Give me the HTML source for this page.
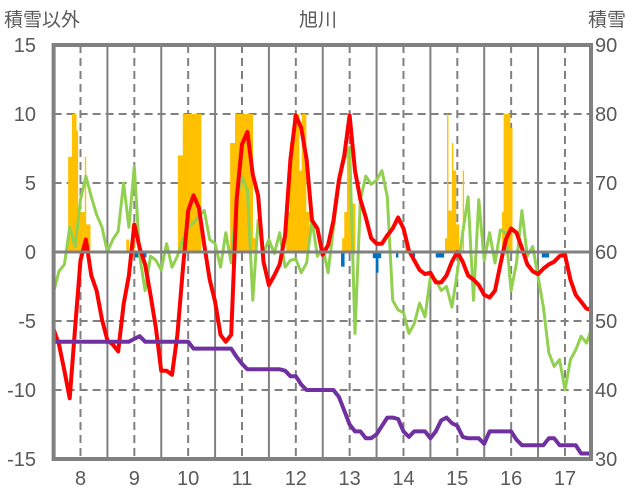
<!DOCTYPE html>
<html><head><meta charset="utf-8"><style>
body{margin:0;background:#fff;}
svg{display:block;font-family:"Liberation Sans","Noto Sans CJK JP",sans-serif;}
</style></head><body>
<svg id="chart" width="636" height="501" viewBox="0 0 636 501">
<text x="4" y="26" font-size="19" fill="#595959">積雪以外</text>
<text x="318" y="26" font-size="19" fill="#595959" text-anchor="middle">旭川</text>
<text x="588" y="26" font-size="19" fill="#595959">積雪</text>
<g id="grid"></g><g id="bars"></g><g id="lines"></g><g id="frame"></g><g id="labels"></g>
</svg>
<script>
const xTicks=[8,9,10,11,12,13,14,15,16,17];
const leftTicks=[15,10,5,0,-5,-10,-15];
const rightTicks=[90,80,70,60,50,40,30];
const seriesStart=7.5, seriesStep=0.1;
const redValues=[-5.6,-6.7,-8.6,-10.6,-5.5,-0.6,0.9,-1.7,-2.8,-4.9,-6.4,-6.7,-7.2,-3.8,-1.7,2.0,0.3,-0.9,-3.1,-5.5,-8.6,-8.6,-8.9,-6.0,-1.3,3.0,4.1,3.2,0.5,-2.0,-3.6,-6.0,-6.5,-6.0,3.8,7.8,8.7,5.6,4.1,-0.7,-2.4,-1.7,-0.9,1.2,6.7,9.9,9.0,6.7,2.3,1.7,-0.2,0.5,2.3,5.2,7.0,9.9,5.9,3.8,2.5,1.0,0.6,0.6,1.2,1.7,2.5,1.7,0.1,-0.6,-1.3,-1.6,-1.5,-2.2,-2.2,-1.7,-0.7,0,-0.7,-1.7,-2.0,-2.4,-3.1,-3.3,-2.8,-0.9,0.9,1.7,1.4,0.3,-0.9,-1.4,-1.6,-1.2,-0.9,-0.7,-0.3,-0.2,-2.0,-3.1,-3.6,-4.1,-4.2];
const greenValues=[-2.9,-1.4,-0.9,1.8,0.4,3.8,5.5,4.0,2.7,1.8,0,0.9,1.5,5.0,1.8,6.2,-0.3,-2.8,-0.3,-0.6,-1.3,0.6,-1.1,-0.3,0.9,1.8,2.1,2.6,3.0,0.9,0.6,-1.1,1.4,-0.8,3.8,5.4,4.5,-3.5,2.3,-0.1,0.9,-0.1,1.4,-1.1,-0.6,-0.5,-1.5,-0.8,2.3,-0.3,0.4,-1.5,1.8,5.0,6.7,7.6,-5.9,3.8,5.5,4.9,5.2,5.9,4.0,-3.5,-4.2,-4.4,-5.9,-5.2,-3.7,-4.7,-1.8,-2.0,-2.8,-2.5,-4.0,-1.5,1.4,4.0,-3.5,3.8,-0.6,1.4,-0.8,1.6,1.4,-2.8,-0.8,3.0,-0.3,0.4,-1.8,-4.0,-7.3,-8.3,-7.8,-10.0,-7.8,-7.1,-6.1,-6.6,-5.5];
const purpleValues=[-6.5,-6.5,-6.5,-6.5,-6.5,-6.5,-6.5,-6.5,-6.5,-6.5,-6.5,-6.5,-6.5,-6.5,-6.5,-6.3,-6.1,-6.5,-6.5,-6.5,-6.5,-6.5,-6.5,-6.5,-6.5,-6.5,-7.0,-7.0,-7.0,-7.0,-7.0,-7.0,-7.0,-7.0,-7.6,-8.1,-8.5,-8.5,-8.5,-8.5,-8.5,-8.5,-8.5,-8.6,-9.0,-9.0,-9.6,-10,-10,-10,-10,-10,-10,-10.5,-11.5,-12.5,-13.0,-13.0,-13.5,-13.5,-13.2,-12.6,-12.0,-12.0,-12.1,-13.0,-13.4,-13.0,-13.0,-13.0,-13.5,-13.0,-12.2,-12.0,-12.4,-12.6,-13.4,-13.5,-13.5,-13.5,-13.9,-13.0,-13.0,-13.0,-13.0,-13.0,-13.6,-14.0,-14.0,-14.0,-14.0,-14.0,-13.5,-13.5,-14.0,-14.0,-14.0,-14.0,-14.6,-14.6,-14.6];
const barFrom=[7.77,7.84,7.92,7.95,8.0,8.08,8.1,8.85,8.95,9.81,9.9,10.78,10.87,11.2,11.82,11.89,11.95,12.06,12.11,12.19,12.86,12.9,12.95,13.03,14.03,14.77,14.81,14.83,14.9,14.92,14.975,15.1,15.83,15.86,15.98, 9.01,12.84,13.04,13.43,13.49,13.53,13.86,14.16,14.6,15.68,16.57];
const barTo=[7.84,7.92,7.95,8.0,8.08,8.1,8.18,8.9,9.0,9.9,10.24,10.87,11.2,11.26,11.89,11.95,12.06,12.11,12.19,12.25,12.9,12.95,13.03,13.1,14.06,14.81,14.83,14.9,14.92,14.975,15.03,15.12,15.86,15.98,16.02, 9.22,12.9,13.08,13.49,13.53,13.58,13.9,14.21,14.75,15.72,16.7];
const barValues=[6.9,10,8.8,2.9,2.9,6.9,2.0,0.9,2.0,7.0,10,7.9,10,1.0,2.9,7.9,10,5.9,10,2.9,1.0,2.9,7.0,3.5,1.0,1.0,10,3.0,7.9,5.9,2.0,5.9,2.9,10,9.0, -0.4,-1.06,-0.3,-0.45,-1.5,-0.45,-0.4,-0.4,-0.4,-0.4,-0.4];

const L=53.6,R=591,T=45,B=459;
const xs=w=>80.5+(w-8)*53.83;
const ys=v=>252-v*13.8;
const NS='http://www.w3.org/2000/svg';
function mk(tag,attrs,parent){const e=document.createElementNS(NS,tag);for(const k in attrs)e.setAttribute(k,attrs[k]);parent.appendChild(e);return e;}
const grid=document.getElementById('grid'),bars=document.getElementById('bars'),lines=document.getElementById('lines'),frame=document.getElementById('frame'),labels=document.getElementById('labels');
const defs=mk('defs',{},document.getElementById('chart'));
const cp=mk('clipPath',{id:'clip'},defs);mk('rect',{x:L,y:T,width:R-L,height:B-T},cp);
leftTicks.forEach(v=>{
  if(v===15||v===-15||v===0)return;
  const l=mk('line',{x1:L,x2:R,y1:ys(v),y2:ys(v),stroke:'#808080','stroke-width':2,'stroke-dasharray':'8,5'},grid);
  
  
});
xTicks.forEach(w=>{
  const d=mk('line',{x1:xs(w),x2:xs(w),y1:T,y2:B,stroke:'#808080','stroke-width':2,'stroke-dasharray':'8,5'},grid);
  
  
  if(w<17){const s=mk('line',{x1:xs(w+0.5),x2:xs(w+0.5),y1:T,y2:B,stroke:'#808080','stroke-width':2},grid);
  
  }
});
barValues.forEach((v,i)=>{
  const x1=xs(barFrom[i]),x2=xs(barTo[i]);
  const r=mk('rect',{x:x1,y:Math.min(ys(v),ys(0)),width:x2-x1+0.3,height:Math.abs(ys(v)-ys(0)),fill:v>=0?'#FFC000':'#0070C0'},bars);
  
  
});
const z=mk('line',{x1:L,x2:R,y1:ys(0),y2:ys(0),stroke:'#808080','stroke-width':3},frame);


function line(vals,color,w,name){
  const pts=vals.map((v,i)=>xs(seriesStart+i*seriesStep).toFixed(1)+','+ys(v).toFixed(1)).join(' ');
  const p=mk('polyline',{points:pts,fill:'none',stroke:color,'stroke-width':w,'stroke-linejoin':'round','clip-path':'url(#clip)'},lines);
  
  
}
line(greenValues,'#92D050',3,'green-series-line');
line(redValues,'#FF0000',4,'red-series-line');
line(purpleValues,'#7030A0',4,'snow-depth-line');
const fr=mk('rect',{x:L,y:T,width:R-L,height:B-T,fill:'none',stroke:'#808080','stroke-width':4},frame);


leftTicks.forEach(v=>{
  const t=mk('text',{x:36,y:ys(v)+7,'font-size':20,fill:'#595959','text-anchor':'end'},labels);t.textContent=v;
  
  
});
rightTicks.forEach((v,i)=>{
  const t=mk('text',{x:595,y:ys(leftTicks[i])+7,'font-size':20,fill:'#595959'},labels);t.textContent=v;
  
  
});
xTicks.forEach(w=>{
  const t=mk('text',{x:xs(w),y:485,'font-size':20,fill:'#595959','text-anchor':'middle'},labels);t.textContent=w;
  
  
});
</script>
</body></html>
